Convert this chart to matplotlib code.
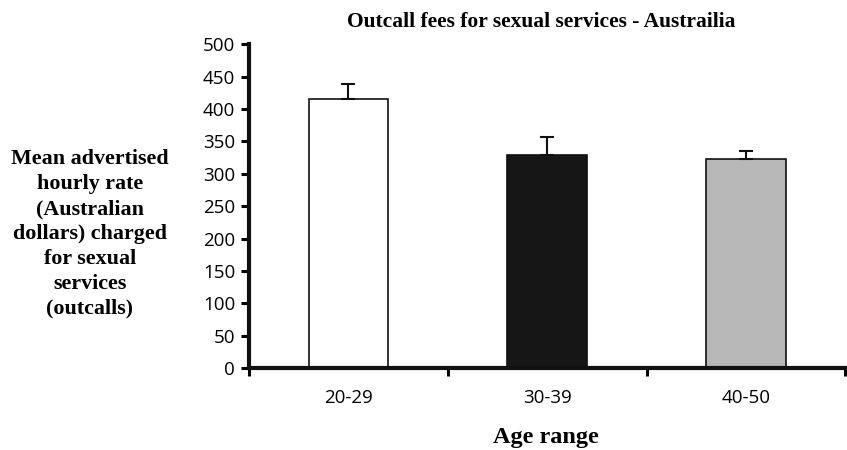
import matplotlib.pyplot as plt
import numpy as np

ages = ["20-29", "30-39", "40-50"]
means = [416, 329, 322]
err_up = [23, 28, 13]
colors = ["white", "#161616", "#b8b8b8"]

fig = plt.figure(figsize=(8.47, 4.5), dpi=100)
ax = fig.add_axes([0.294, 0.182, 0.704, 0.72])

x = np.arange(len(ages))
ax.bar(x, means, width=0.4, color=colors, edgecolor="#111111", linewidth=1.2, zorder=2)
ax.errorbar(x, means, yerr=[np.zeros(len(x)), err_up], fmt="none",
            ecolor="#111111", elinewidth=1.5, capsize=5, capthick=1.5, zorder=3)

ax.set_xlim(-0.5, 2.5)
ax.set_ylim(0, 500)
ax.set_yticks(np.arange(0, 501, 50))
ax.set_xticks([-0.5, 0.5, 1.5, 2.5])
ax.set_xticklabels([])
ax.set_xticks(x, minor=True)
ax.set_xticklabels(ages, minor=True, fontsize=13.5, family="Open Sans")
ax.tick_params(axis="x", which="minor", length=0, pad=15)
ax.tick_params(axis="x", which="major", length=6, width=2.2, direction="out")
ax.tick_params(axis="y", length=6, width=2.2, pad=4, labelsize=13.5)
for lab in ax.get_yticklabels():
    lab.set_family("Open Sans")

for s in ["top", "right"]:
    ax.spines[s].set_visible(False)
for s in ["left", "bottom"]:
    ax.spines[s].set_linewidth(3)
    ax.spines[s].set_color("#111111")

fig.text(0.639, 0.951, "Outcall fees for sexual services - Austrailia",
         ha="center", va="center", fontsize=15.5, fontweight="bold", family="Liberation Serif")
fig.text(0.106, 0.48, "Mean advertised\nhourly rate\n(Australian\ndollars) charged\nfor sexual\nservices\n(outcalls)",
         ha="center", va="center", fontsize=15.8, fontweight="bold", family="Liberation Serif",
         linespacing=1.33)
fig.text(0.645, 0.027, "Age range", ha="center", va="center", fontsize=17.5,
         fontweight="bold", family="Liberation Serif")

plt.savefig("out.png", dpi=100)
